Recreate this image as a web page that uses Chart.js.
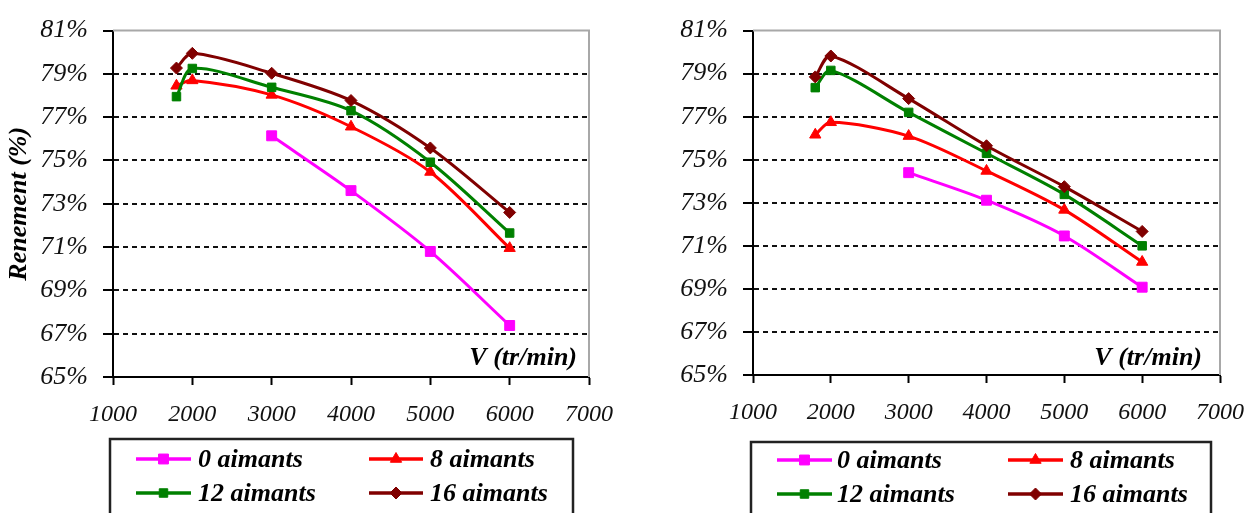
<!DOCTYPE html>
<html><head><meta charset="utf-8">
<script src="https://cdn.jsdelivr.net/npm/chart.js@4"></script>
<style>
html,body{margin:0;padding:0;background:#fff;width:1259px;height:513px;overflow:hidden}
#c1{position:absolute;left:0;top:0}
#c2{position:absolute;left:630px;top:0}
</style></head><body>
<canvas id="c1" width="630" height="513"></canvas>
<canvas id="c2" width="629" height="513"></canvas>
<script>
// ---- data ----
const speeds = [1800, 2000, 3000, 4000, 5000, 6000];
const speeds0 = [3000, 4000, 5000, 6000];
const seriesLabels = ['0 aimants', '8 aimants', '12 aimants', '16 aimants'];
const left0  = [76.14, 73.61, 70.80, 67.38];
const left8  = [78.45, 78.70, 78.03, 76.56, 74.47, 70.95];
const left12 = [77.95, 79.25, 78.38, 77.30, 74.92, 71.65];
const left16 = [79.27, 79.95, 79.03, 77.77, 75.58, 72.60];
const right0  = [74.40, 73.12, 71.46, 69.08];
const right8  = [76.16, 76.74, 76.10, 74.48, 72.67, 70.25];
const right12 = [78.35, 79.15, 77.20, 75.30, 73.39, 71.00];
const right16 = [78.85, 79.82, 77.84, 75.65, 73.75, 71.67];
const xTicks = [1000, 2000, 3000, 4000, 5000, 6000, 7000];
const yTicks = [65, 67, 69, 71, 73, 75, 77, 79, 81];
const xAxisLabel = 'V (tr/min)';
const yAxisLabel = 'Renement (%)';

// ---- styles ----
const seriesColors = ['#FF00FF', '#FF0000', '#008000', '#800000'];
const seriesPoints = ['rect', 'triangle', 'rect', 'rectRot'];
const seriesRadius = [7, 6.5, 6, 6];
const SERIF = "'Liberation Serif', 'Times New Roman', serif";

function pts(xs, ys) { return xs.map((x, i) => ({x: x, y: ys[i]})); }

function makeDatasets(v0, v8, v12, v16) {
  const vals = [pts(speeds0, v0), pts(speeds, v8), pts(speeds, v12), pts(speeds, v16)];
  return vals.map((d, i) => ({
    label: seriesLabels[i],
    data: d,
    borderColor: seriesColors[i],
    backgroundColor: seriesColors[i],
    pointBackgroundColor: seriesColors[i],
    pointBorderColor: seriesColors[i],
    pointStyle: seriesPoints[i],
    pointRadius: seriesRadius[i],
    pointBorderWidth: 1,
    borderWidth: 3,
    tension: 0.3,
    fill: false,
    order: 4 - i
  }));
}

const framePlugin = {
  id: 'frame',
  beforeDatasetsDraw(chart) {
    const a = chart.chartArea, ctx = chart.ctx;
    ctx.save();
    ctx.strokeStyle = '#a8a8a8';
    ctx.lineWidth = 2;
    ctx.beginPath();
    ctx.moveTo(a.left, a.top);
    ctx.lineTo(a.right, a.top);
    ctx.lineTo(a.right, a.bottom);
    ctx.stroke();
    ctx.restore();
  },
  afterDraw(chart, args, opts) {
    const ctx = chart.ctx, a = chart.chartArea;
    ctx.save();
    ctx.font = 'italic bold 26px ' + SERIF;
    ctx.fillStyle = '#000';
    ctx.textAlign = 'right';
    ctx.textBaseline = 'middle';
    ctx.fillText(xAxisLabel, a.right - opts.labelRight, opts.labelY);
    const b = opts.box;
    ctx.strokeStyle = '#222';
    ctx.lineWidth = 2.5;
    ctx.strokeRect(b[0], b[1], b[2] - b[0], 120);
    ctx.textAlign = 'left';
    chart.data.datasets.forEach((ds, i) => {
      const col = opts.cols[i % 2], y = opts.rows[Math.floor(i / 2)];
      ctx.strokeStyle = ds.borderColor;
      ctx.lineWidth = 3.5;
      ctx.beginPath();
      ctx.moveTo(col[0], y);
      ctx.lineTo(col[1], y);
      ctx.stroke();
      ctx.fillStyle = ds.borderColor;
      ctx.lineWidth = 1;
      Chart.helpers.drawPoint(ctx, {pointStyle: ds.pointStyle, radius: ds.pointRadius, rotation: 0, borderWidth: 1}, (col[0] + col[1]) / 2, y);
      ctx.fillStyle = '#000';
      ctx.font = 'italic bold 26px ' + SERIF;
      ctx.fillText(ds.label, col[2], y + 1);
    });
    ctx.restore();
  }
};

function makeChart(id, datasets, L) {
  return new Chart(document.getElementById(id), {
    type: 'line',
    data: {datasets: datasets},
    plugins: [framePlugin],
    options: {
      responsive: false,
      animation: false,
      events: [],
      layout: {padding: {left: 0, top: L.top, right: L.right, bottom: L.bottom}},
      plugins: {
        legend: {display: false},
        tooltip: {enabled: false},
        frame: L.frame
      },
      scales: {
        x: {
          type: 'linear',
          min: 1000, max: 7000,
          afterBuildTicks: s => { s.ticks = xTicks.map(v => ({value: v})); },
          afterFit: s => { s.height = 60; },
          ticks: {
            callback: v => String(v),
            font: {family: SERIF, size: 24, style: 'italic'},
            color: '#111',
            padding: 15,
            maxRotation: 0,
            autoSkip: false
          },
          grid: {drawOnChartArea: false, drawTicks: true, tickLength: 8, tickColor: '#000', tickWidth: 2},
          border: {display: true, color: '#000', width: 2}
        },
        y: {
          min: 65, max: 81,
          afterBuildTicks: s => { s.ticks = yTicks.map(v => ({value: v})); },
          afterFit: s => { s.width = L.yWidth; },
          ticks: {
            callback: v => v + '%',
            font: {family: SERIF, size: 26, style: 'italic'},
            color: '#111',
            padding: 15,
            autoSkip: false
          },
          title: {
            display: L.showTitle,
            text: yAxisLabel,
            font: {family: SERIF, size: 26, style: 'italic', weight: 'bold'},
            color: '#000',
            padding: {top: 4, bottom: 0}
          },
          grid: {
            color: c => (c.tick && (c.tick.value === 81 || c.tick.value === 65)) ? 'rgba(0,0,0,0)' : '#111',
            lineWidth: 2,
            drawTicks: true, tickLength: 10, tickColor: '#000', tickWidth: 2,
            tickBorderDash: []
          },
          border: {display: true, color: '#000', width: 2, dash: [5, 4]}
        }
      }
    }
  });
}

makeChart('c1', makeDatasets(left0, left8, left12, left16), {
  top: 24, right: 41, bottom: 76, yWidth: 113, showTitle: true,
  frame: {labelRight: 12, labelY: 358, box: [110, 439, 573], cols: [[136, 191, 198], [369, 423, 430]], rows: [459, 493]}
});
makeChart('c2', makeDatasets(right0, right8, right12, right16), {
  top: 23, right: 31, bottom: 78, yWidth: 123, showTitle: false,
  frame: {labelRight: 18, labelY: 358, box: [121, 442, 581], cols: [[147, 202, 207], [378, 433, 440]], rows: [460, 494]}
});
</script>
</body></html>
